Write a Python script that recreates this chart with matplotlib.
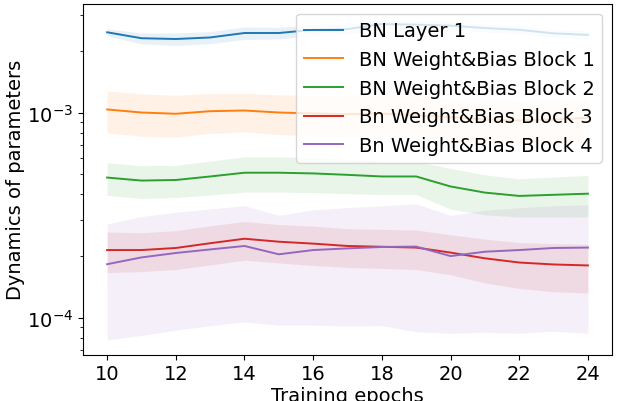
import numpy as np
import matplotlib
matplotlib.use("Agg")
import matplotlib.pyplot as plt

epochs = list(range(10, 25))

bn_layer1 = [2.47e-3, 2.31e-3, 2.29e-3, 2.33e-3, 2.45e-3, 2.45e-3, 2.54e-3, 2.56e-3,
             2.71e-3, 2.69e-3, 2.66e-3, 2.59e-3, 2.54e-3, 2.44e-3, 2.40e-3]
bn_layer1_std = [0.10e-3, 0.14e-3, 0.16e-3, 0.16e-3, 0.17e-3, 0.16e-3, 0.15e-3, 0.14e-3,
                 0.13e-3, 0.12e-3, 0.12e-3, 0.11e-3, 0.11e-3, 0.10e-3, 0.10e-3]

block1 = [1.038e-3, 1.003e-3, 0.989e-3, 1.018e-3, 1.026e-3, 1.003e-3, 0.992e-3, 0.984e-3,
          0.990e-3, 0.973e-3, 0.952e-3, 0.927e-3, 0.917e-3, 0.927e-3, 0.945e-3]
block1_std = [0.24e-3, 0.235e-3, 0.228e-3, 0.225e-3, 0.22e-3, 0.22e-3, 0.22e-3, 0.22e-3,
              0.22e-3, 0.22e-3, 0.22e-3, 0.22e-3, 0.22e-3, 0.22e-3, 0.22e-3]

block2 = [4.83e-4, 4.67e-4, 4.70e-4, 4.89e-4, 5.10e-4, 5.10e-4, 5.06e-4, 4.98e-4,
          4.89e-4, 4.89e-4, 4.37e-4, 4.08e-4, 3.93e-4, 3.98e-4, 4.03e-4]
block2_std = [0.87e-4, 0.85e-4, 0.84e-4, 0.92e-4, 1.0e-4, 1.0e-4, 0.98e-4, 0.95e-4,
              0.90e-4, 0.90e-4, 0.98e-4, 0.90e-4, 0.83e-4, 0.88e-4, 0.92e-4]

block3 = [2.14e-4, 2.14e-4, 2.19e-4, 2.31e-4, 2.43e-4, 2.35e-4, 2.30e-4, 2.24e-4,
          2.22e-4, 2.20e-4, 2.08e-4, 1.95e-4, 1.86e-4, 1.82e-4, 1.80e-4]
block3_std = [0.48e-4, 0.46e-4, 0.47e-4, 0.50e-4, 0.52e-4, 0.50e-4, 0.50e-4, 0.48e-4,
              0.48e-4, 0.48e-4, 0.46e-4, 0.47e-4, 0.47e-4, 0.48e-4, 0.48e-4]

block4 = [1.825e-4, 1.97e-4, 2.07e-4, 2.155e-4, 2.24e-4, 2.04e-4, 2.14e-4, 2.18e-4,
          2.215e-4, 2.225e-4, 2.00e-4, 2.10e-4, 2.14e-4, 2.19e-4, 2.20e-4]
block4_std = [1.045e-4, 1.15e-4, 1.20e-4, 1.24e-4, 1.285e-4, 1.12e-4, 1.22e-4, 1.27e-4,
              1.30e-4, 1.37e-4, 1.16e-4, 1.25e-4, 1.30e-4, 1.33e-4, 1.36e-4]

labels = ["BN Layer 1", "BN Weight&Bias Block 1", "BN Weight&Bias Block 2",
          "Bn Weight&Bias Block 3", "Bn Weight&Bias Block 4"]
colors = ["#1f77b4", "#ff7f0e", "#2ca02c", "#d62728", "#9467bd"]

series = [(bn_layer1, bn_layer1_std), (block1, block1_std), (block2, block2_std),
          (block3, block3_std), (block4, block4_std)]

plt.rcParams['font.family'] = ['DejaVu Sans']
fig = plt.figure(figsize=(6.2, 4.02), dpi=100)
ax = fig.add_axes([0.134, 0.115, 0.853, 0.873])

x = np.array(epochs)
for (m, s), lab, c in zip(series, labels, colors):
    m = np.array(m); s = np.array(s)
    ax.plot(x, m, color=c, lw=1.4, label=lab)
    ax.fill_between(x, m - s, m + s, color=c, alpha=0.1, lw=0)

ax.set_yscale('log')
ax.set_ylim(6.6e-5, 3.4e-3)
ax.set_xticks(range(10, 25, 2))
ax.tick_params(labelsize=14)
ax.set_xlabel("Training epochs", fontsize=14, labelpad=2)
ax.set_ylabel("Dynamics of parameters", fontsize=14, labelpad=1.5)
ax.legend(loc='upper right', fontsize=14, framealpha=0.8)

fig.savefig("out.png", dpi=100)
